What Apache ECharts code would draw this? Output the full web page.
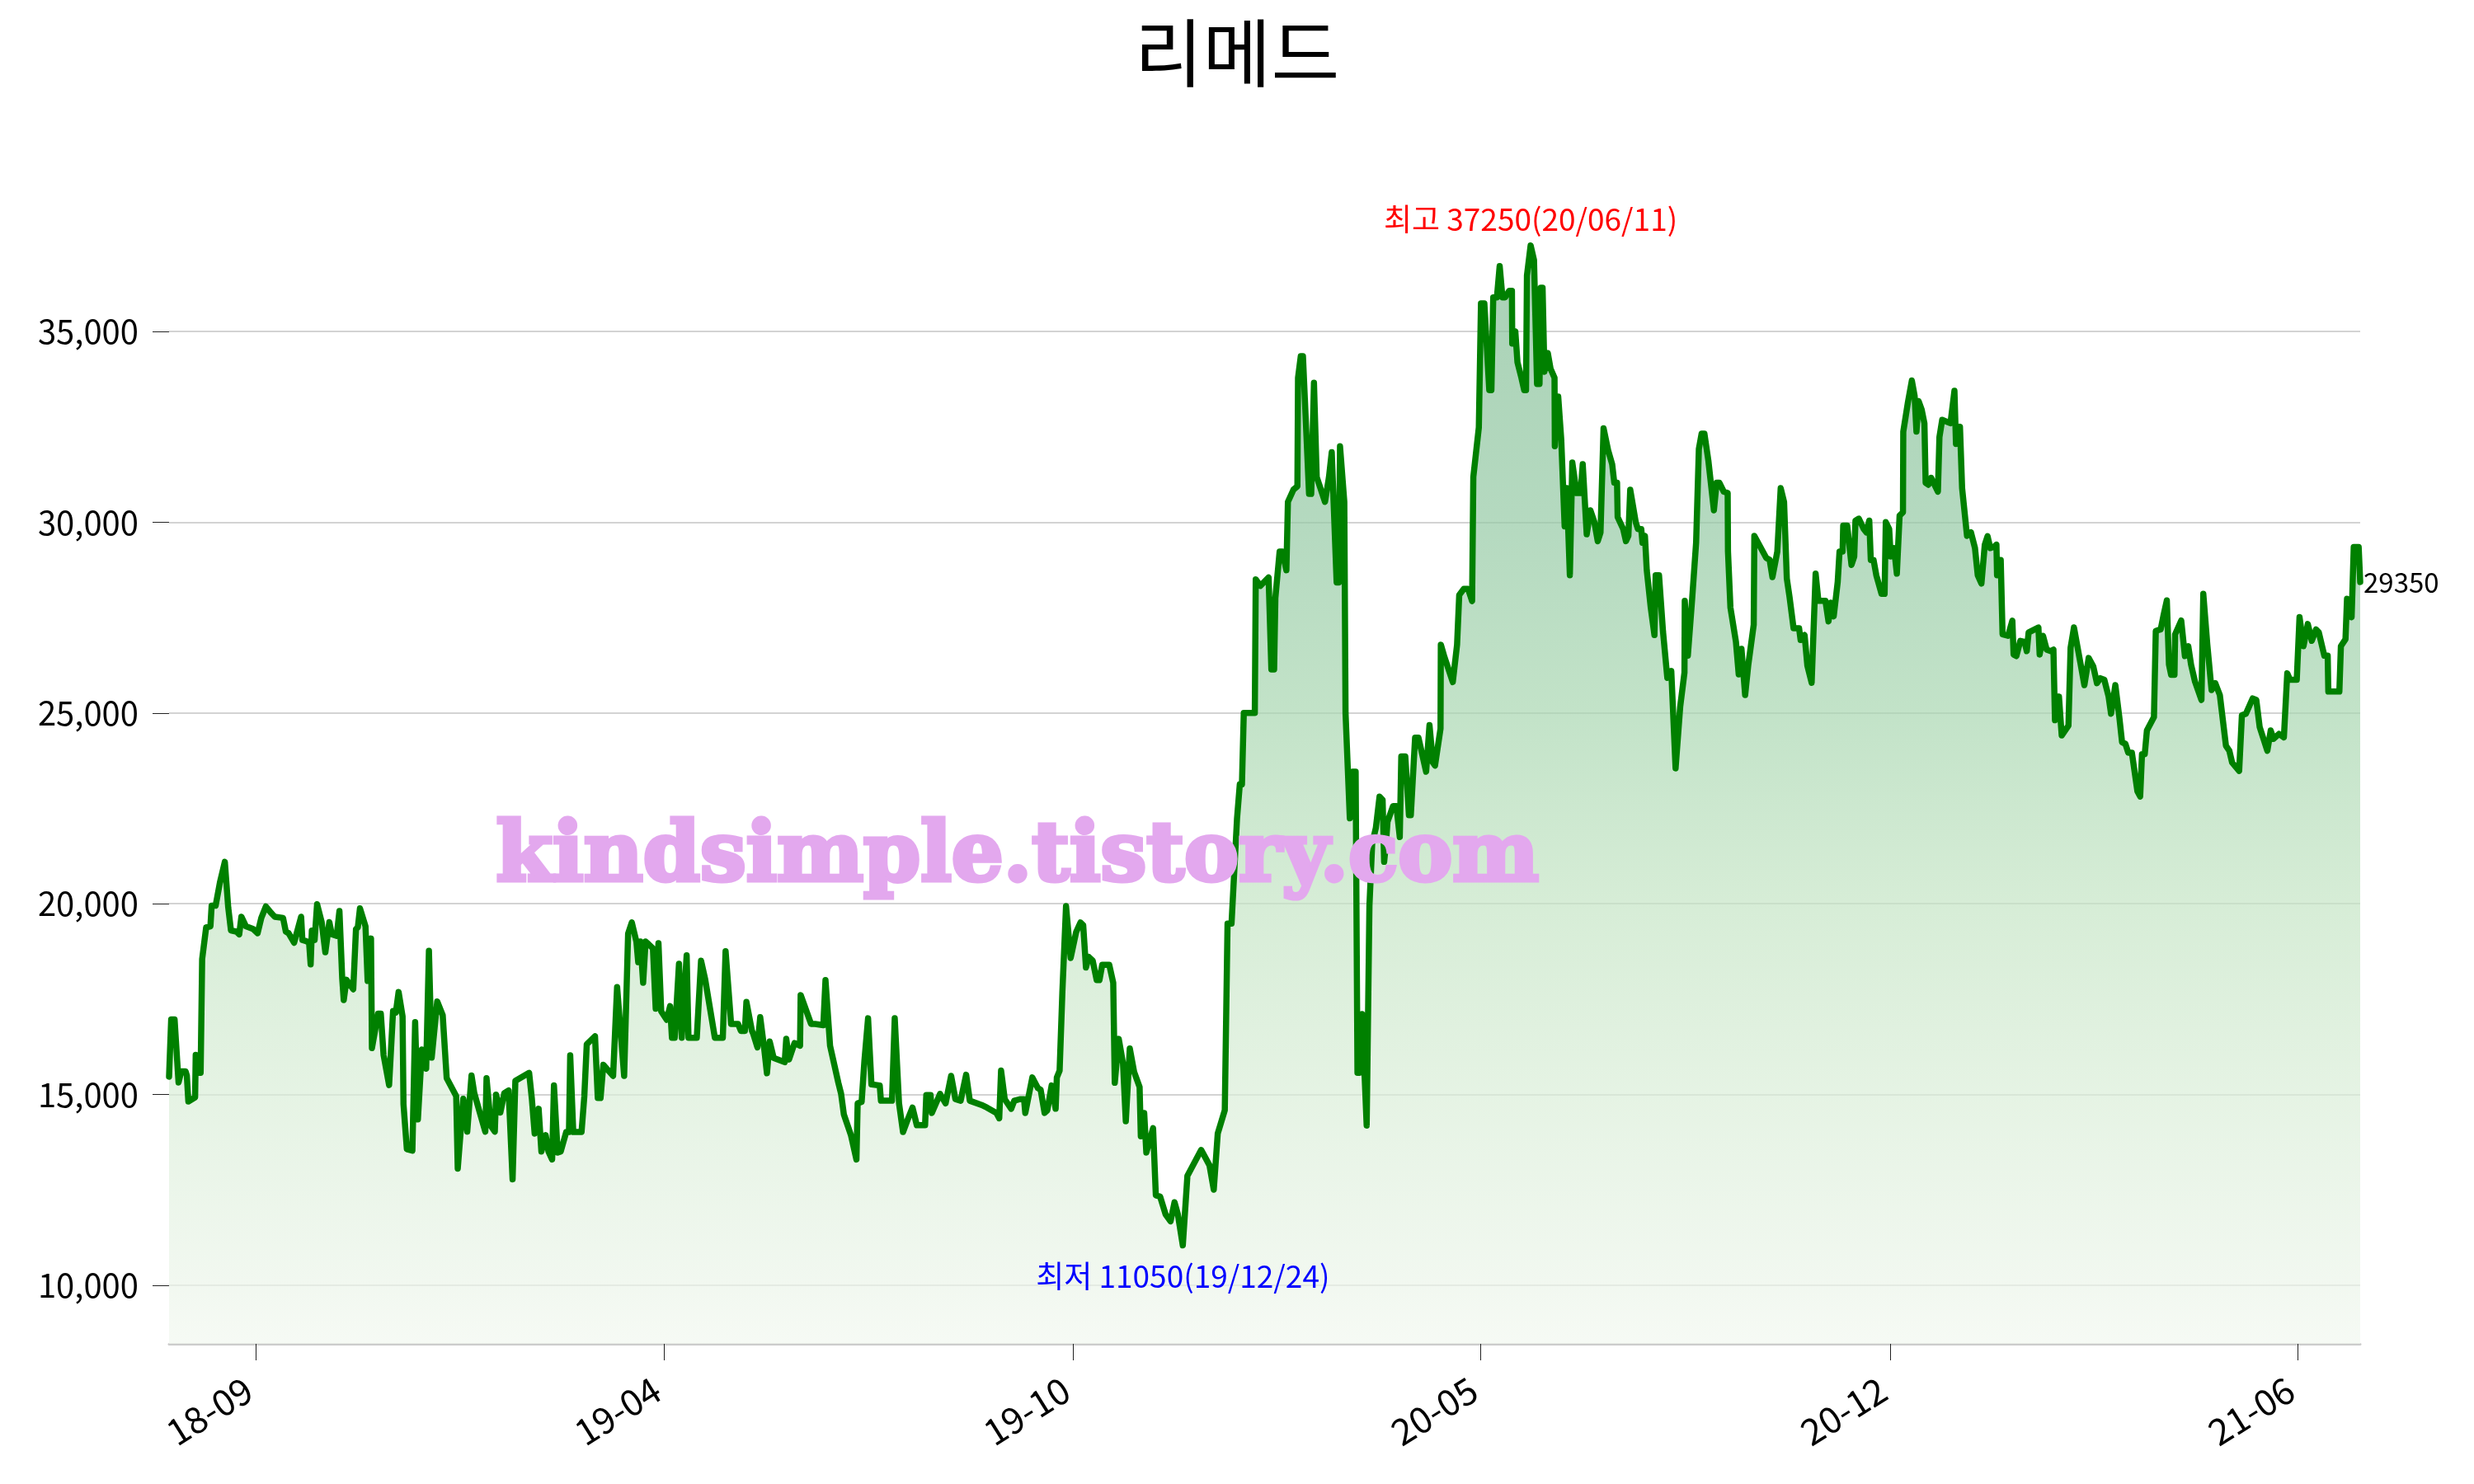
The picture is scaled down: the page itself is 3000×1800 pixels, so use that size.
<!DOCTYPE html>
<html>
<head>
<meta charset="utf-8">
<script src="https://cdn.jsdelivr.net/npm/echarts@6/dist/echarts.min.js"></script>
<style>
html,body{margin:0;padding:0;background:#fff;}
#chart{width:3000px;height:1800px;}
</style>
</head>
<body>
<div id="chart"></div>
<script>
// ---- data (x = trading-day index, y = price) ----
const titleText = '리메드';
const priceSeries = [
[0,15470],[0.7,16970],[1.8,16970],[3.1,15320],[4.0,15610],[5.4,15610],[5.8,15500],[6.3,14820],[8.5,14930],[8.7,16040],
[9.4,15570],[10.3,15570],[10.8,18550],[12.1,19380],[13.5,19410],[13.9,19950],[15.2,19950],[16.6,20560],[18.2,21100],[19.3,19910],
[20.2,19300],[22.0,19270],[22.9,19200],[23.6,19660],[25.1,19410],[27.4,19340],[28.9,19230],[30.1,19630],[31.6,19930],[33.2,19770],
[34.5,19660],[37.2,19630],[38.1,19270],[39.0,19230],[40.8,18980],[43.1,19660],[43.5,19050],[44.8,19020],[45.7,18980],[46.2,18410],
[46.6,19300],[47.5,19050],[48.3,19990],[49.8,19520],[51.0,18730],[52.3,19520],[53.1,19200],[54.7,19160],[55.6,19810],[56.5,18050],
[57.0,17480],[57.9,18010],[60.1,17760],[61.0,19340],[61.6,19380],[62.3,19880],[64.1,19410],[64.8,17980],[65.9,19090],[66.2,16220],
[68.2,17120],[69.1,17120],[70.0,16040],[71.8,15250],[73.1,17190],[74.0,17150],[74.9,17690],[76.2,17050],[76.5,14750],[77.6,13570],
[79.4,13530],[80.3,16900],[81.2,14350],[82.5,16180],[83.9,15680],[84.8,18770],[85.7,15970],[87.5,17440],[89.3,17080],[90.6,15430],
[93.7,14960],[94.2,13060],[96.0,14890],[97.3,14030],[98.7,15500],[99.6,15040],[101.4,14530],[103.2,14030],[103.6,15430],[105.0,14180],
[106.3,14030],[106.7,15000],[108.1,14530],[109.4,15040],[110.8,15110],[112.1,12780],[113.0,15360],[117.5,15570],[118.4,14880],[119.3,13980],
[120.6,14630],[121.5,13510],[122.9,13940],[123.8,13510],[125.0,13300],[125.6,15240],[126.8,13480],[127.8,13510],[129.6,14020],[130.5,14020],
[130.9,16030],[131.9,14020],[134.6,14020],[135.5,14950],[136.3,16320],[139.0,16530],[139.9,14910],[140.8,14910],[141.7,15780],[144.9,15490],
[146.2,17820],[148.5,15490],[149.8,19220],[151.0,19510],[152.5,19010],[153.1,18470],[153.8,19010],[154.7,17930],[155.5,19010],[156.5,18940],
[157.9,18830],[158.8,17250],[159.7,18970],[160.6,17180],[162.4,16960],[163.5,17320],[164.1,16490],[165.0,16490],[166.4,18430],[167.3,16490],
[168.9,18650],[169.5,16490],[172.2,16490],[173.6,18510],[174.9,18040],[178.1,16490],[180.7,16490],[181.6,18760],[183.4,16850],[185.7,16850],
[186.6,16670],[187.9,16670],[188.4,17430],[190.2,16670],[190.6,16600],[192.0,16240],[192.9,17030],[194.2,16210],[195.1,15560],[196.0,16390],
[197.3,15960],[200.9,15850],[201.4,16460],[202.3,15920],[204.1,16350],[205.9,16280],[206.1,17610],[209.5,16850],[210.8,16850],[213.5,16820],
[214.2,18000],[215.7,16280],[218.4,15310],[219.3,15020],[220.2,14480],[222.5,13940],[224.3,13300],[224.7,14770],[226.0,14810],[226.9,15880],
[228.1,17000],[229.2,15270],[231.9,15240],[232.3,14840],[235.9,14840],[236.8,17000],[238.2,14770],[239.5,14020],[240.8,14300],[242.6,14660],
[244.0,14200],[246.7,14200],[247.1,14990],[248.5,14990],[248.9,14520],[251.6,15020],[253.4,14770],[255.2,15490],[256.6,14880],[258.3,14840],
[260.1,15520],[261.3,14840],[265.1,14730],[266.9,14660],[270.0,14520],[270.9,14380],[271.5,15630],[272.7,14880],[274.8,14630],[275.8,14840],
[277.6,14880],[279.0,14880],[279.4,14520],[281.7,15450],[283.5,15170],[284.4,15130],[285.7,14520],[286.6,14590],[288.0,15240],[289.3,14630],
[289.7,15450],[290.6,15630],[291.5,17680],[292.7,19940],[294.2,18580],[296.0,19260],[297.4,19510],[298.3,19440],[299.2,18330],[300.1,18610],
[301.4,18510],[302.7,18000],[303.6,18000],[304.5,18400],[306.8,18400],[308.1,17930],[308.6,15310],[309.9,16460],[311.3,15810],[312.2,14300],
[313.5,16210],[314.9,15600],[316.7,15200],[317.1,13910],[318.2,14520],[318.9,13480],[321.1,14120],[322.0,12360],[323.4,12330],[325.2,11860],
[326.8,11680],[328.1,12180],[329.2,11860],[330.8,11050],[332.3,12870],[336.8,13550],[339.5,13150],[340.9,12510],[342.2,13980],[344.5,14590],
[345.4,19480],[346.7,19480],[348.5,22240],[349.4,23130],[350.1,23130],[350.7,25000],[354.3,25000],[354.6,28500],[356.1,28330],[358.8,28550],
[359.7,26140],[360.6,26140],[361.0,28010],[362.4,29230],[363.3,29230],[364.6,28740],[365.1,30530],[366.9,30850],[368.2,30940],[368.4,33780],
[369.3,34350],[370.0,34350],[372.0,30740],[372.7,30740],[373.6,33650],[374.5,31180],[377.2,30530],[378.5,31180],[379.4,31830],[381.0,28420],
[381.7,28420],[382.1,31990],[383.5,30530],[383.9,25000],[385.3,22240],[385.7,22240],[386.2,23460],[387.2,23460],[387.8,15570],[388.4,15570],
[389.3,17110],[390.8,14190],[391.7,19950],[392.6,21580],[393.8,21990],[395.0,22810],[396.0,22720],[396.5,21100],[397.1,21590],[397.6,22150],
[399.4,22560],[400.5,22560],[401.6,21750],[402.1,23860],[403.4,23860],[404.6,22320],[405.2,22320],[406.6,24350],[407.7,24350],[410.2,23460],
[411.3,24680],[412.4,23700],[413.1,23620],[414.9,24590],[415.0,26790],[416.2,26460],[418.9,25810],[420.3,26790],[421.0,28090],[422.5,28250],
[423.9,28250],[425.2,27930],[425.6,31180],[427.4,32480],[428.1,35730],[429.2,35730],[430.8,33460],[431.5,33460],[432.1,35890],[433.3,35890],
[434.2,36710],[435.1,35890],[436.0,35890],[437.3,36060],[438.2,36060],[438.3,34680],[439.3,35000],[440.0,34190],[441.3,33780],[442.2,33460],
[442.8,33460],[443.1,36460],[444.3,37250],[445.4,36870],[446.4,33620],[447.2,33620],[447.6,36140],[448.2,36140],[448.8,33940],[449.9,34430],
[450.8,34020],[452.1,33780],[452.2,31990],[452.7,33290],[453.3,33290],[454.3,32150],[455.4,29890],[456.1,30890],[457.1,28610],[457.9,31560],
[459.3,30760],[460.6,30760],[461.3,31520],[462.6,29680],[463.8,30310],[465.1,30000],[466.2,29500],[467.1,29730],[468.1,32460],[469.6,31880],
[470.9,31520],[471.6,31030],[472.5,31030],[472.7,30130],[474.5,29820],[475.4,29500],[476.2,29640],[476.8,30850],[478.6,30000],[479.3,29820],
[480.4,29820],[480.8,29460],[481.6,29640],[482.2,28740],[483.5,27760],[484.7,27040],[485.1,28610],[486.2,28610],[487.5,27130],[488.9,25920],
[490.2,26100],[491.6,23550],[493.1,25160],[494.5,26060],[494.6,27940],[495.6,26500],[497.0,27980],[498.3,29460],[499.2,31920],[500.1,32320],
[501.0,32320],[502.3,31610],[504.1,30310],[505.0,31030],[505.9,31030],[507.3,30800],[508.6,30760],[508.7,29230],[509.5,27760],[511.3,26860],
[512.2,26010],[513.1,26680],[514.3,25470],[515.3,26240],[517.1,27310],[517.3,29640],[521.2,29060],[522.3,29010],[523.2,28560],[524.8,29230],
[525.9,30890],[527.0,30530],[527.9,28520],[528.8,28030],[530.1,27220],[531.9,27220],[532.4,26910],[533.7,27040],[534.6,26240],[536.0,25790],
[537.3,28650],[538.2,27940],[540.5,27940],[541.5,27400],[542.3,27890],[543.2,27530],[544.5,28430],[545.1,29230],[546.1,29230],[546.3,29910],
[547.6,29910],[549.0,28880],[549.9,29100],[550.3,30040],[551.4,30090],[553.0,29820],[553.9,29730],[554.8,30040],[555.3,29010],[556.2,29010],
[557.1,28610],[558.8,28120],[559.8,28120],[560.2,30000],[561.3,29820],[561.8,29100],[562.9,29320],[563.8,28650],[564.7,30170],[565.8,30260],
[565.9,32370],[567.4,33130],[568.7,33710],[569.6,33310],[570.2,32370],[570.9,33170],[571.9,32950],[572.8,32590],[573.2,31030],[574.1,30980],
[575.0,31160],[577.2,30800],[577.7,32230],[578.6,32680],[581.3,32590],[582.6,33440],[583.1,32050],[584.4,32500],[585.1,30890],[586.7,29640],
[588.0,29730],[589.3,29320],[590.2,28610],[591.4,28390],[592.5,29410],[593.4,29630],[594.3,29320],[595.6,29360],[596.3,29410],[596.5,28610],
[597.0,29010],[597.7,29010],[598.3,27060],[600.1,27020],[601.5,27420],[601.9,26530],[602.8,26490],[604.1,26890],[605.5,26860],[606.2,26620],
[606.8,27110],[610.0,27240],[610.4,26530],[611.5,27020],[612.7,26660],[614.0,26620],[614.9,26660],[615.4,24810],[616.7,25430],[617.6,24410],
[619.8,24670],[620.5,26710],[621.6,27240],[623.7,26310],[625.0,25730],[626.4,26440],[627.9,26220],[629.1,25780],[630.2,25910],[631.5,25870],
[632.9,25430],[633.7,24980],[635.1,25730],[636.4,24890],[637.3,24230],[638.4,24190],[639.3,23960],[640.5,23960],[642.3,22950],[643.2,22810],
[643.8,23920],[644.7,23920],[645.4,24540],[647.7,24890],[648.3,27150],[649.9,27190],[650.8,27550],[651.9,27950],[652.6,26270],[653.3,26000],
[654.4,26000],[654.6,27060],[656.6,27420],[657.8,26490],[658.9,26750],[659.8,26270],[661.1,25820],[661.6,25820],[663.2,25340],[663.8,28120],
[665.1,26800],[666.5,25600],[667.7,25780],[669.2,25470],[671.2,24140],[672.3,24010],[673.2,23700],[675.5,23480],[676.4,24940],[677.7,24980],
[679.9,25380],[681.1,25340],[682.2,24630],[684.7,24010],[685.8,24540],[686.7,24320],[688.5,24450],[690.1,24360],[691.2,26040],[692.1,25870],
[694.3,25870],[695.2,27510],[696.5,26750],[697.9,27330],[699.2,26890],[700.6,27190],[701.5,27110],[703.3,26500],[704.4,26500],[704.6,25560],
[708.2,25560],[708.7,26750],[710.2,26930],[710.7,27990],[712.2,27510],[712.9,29350],[714.5,29350],[715.0,28430]
];
const tickPos = [28.3, 161.5, 295, 428, 561.6, 694.6];
const tickLabels = ['18-09', '19-04', '19-10', '20-05', '20-12', '21-06'];
const yTicks = [10000, 15000, 20000, 25000, 30000, 35000];
const maxDate = '20/06/11';
const minDate = '19/12/24';
const lastPriceLabel = '29350';

const FONT = '"Noto Sans CJK KR", "Noto Sans", sans-serif';
const lastPt = priceSeries[priceSeries.length - 1];

const chart = echarts.init(document.getElementById('chart'), null, {renderer: 'canvas'});
chart.setOption({
  animation: false,
  backgroundColor: '#ffffff',
  title: {
    text: titleText,
    left: 'center',
    top: 14,
    textStyle: {fontFamily: FONT, fontSize: 90, fontWeight: 'normal', color: '#000'}
  },
  grid: {left: 205, right: 138, top: 175, bottom: 170, containLabel: false},
  xAxis: {
    type: 'value',
    min: 0,
    max: 715,
    axisLine: {show: true, lineStyle: {color: '#cccccc', width: 3}},
    axisTick: {show: true, length: 20, customValues: tickPos, lineStyle: {color: '#222', width: 1}},
    axisLabel: {
      show: true, customValues: tickPos, rotate: 32, margin: 46,
      fontFamily: FONT, fontSize: 44, color: '#000', padding: [0, 10, 0, 0],
      formatter: function (v) {
        let best = 0;
        for (let i = 1; i < tickPos.length; i++) if (Math.abs(tickPos[i] - v) < Math.abs(tickPos[best] - v)) best = i;
        return tickLabels[best];
      }
    },
    splitLine: {show: false}
  },
  yAxis: {
    type: 'value',
    min: 8470,
    max: 39900,
    axisLine: {show: false},
    axisTick: {show: true, length: 20, customValues: yTicks, lineStyle: {color: '#222', width: 1}},
    axisLabel: {
      customValues: yTicks, margin: 37, fontFamily: FONT, fontSize: 40, color: '#000',
      formatter: function (v) { return v.toLocaleString('en-US'); }
    },
    splitLine: {show: true, lineStyle: {color: '#d3d3d3', width: 2}}
  },
  series: [{
    type: 'line',
    data: priceSeries,
    showSymbol: false,
    symbol: 'none',
    lineStyle: {color: '#008000', width: 7.5, join: 'round', cap: 'round'},
    areaStyle: {
      color: new echarts.graphic.LinearGradient(0, 297, 0, 1630, [
        {offset: 0, color: '#84be96'},
        {offset: 0.25, color: '#94c9a4'},
        {offset: 0.43, color: '#a9d7b1'},
        {offset: 0.6, color: '#c5e5c5'},
        {offset: 0.77, color: '#daeed8'},
        {offset: 0.95, color: '#ecf5ea'},
        {offset: 1, color: '#f2f8f0'}
      ], true)
    },
    z: 3,
    markPoint: {
      symbol: 'circle',
      symbolSize: 1,
      itemStyle: {color: 'rgba(0,0,0,0)'},
      data: [
        {type: 'max', label: {show: true, position: 'inside', offset: [0, -32], fontFamily: FONT, fontSize: 37, color: '#ff0000',
          formatter: function (p) { return '최고 ' + p.value + '(' + maxDate + ')'; }}},
        {type: 'min', label: {show: true, position: 'inside', offset: [0, 37], fontFamily: FONT, fontSize: 37, color: '#0000ff',
          formatter: function (p) { return '최저 ' + p.value + '(' + minDate + ')'; }}},
        {coord: [lastPt[0], lastPt[1]], label: {show: true, position: 'inside', align: 'left', offset: [4, 0], fontFamily: FONT, fontSize: 33, color: '#000',
          formatter: function () { return lastPriceLabel; }}}
      ]
    }
  }],
  graphic: [{
    type: 'text',
    left: 599,
    top: 990,
    z: 100,
    style: {
      text: 'kindsimple.tistory.com',
      fontFamily: '"DejaVu Serif", serif',
      fontWeight: 'bold',
      fontSize: 99,
      fill: '#e3a8ee',
      stroke: '#e3a8ee',
      lineWidth: 5
    }
  }]
});
</script>
</body>
</html>
